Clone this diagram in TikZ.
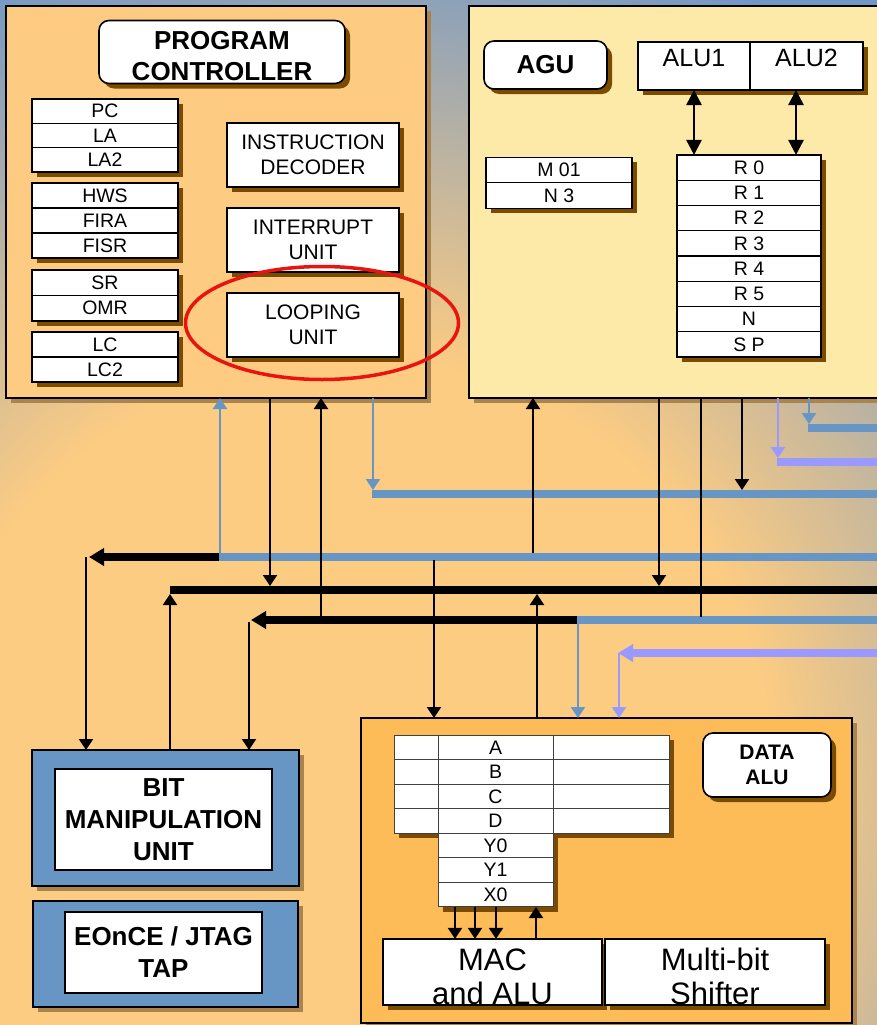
\documentclass[tikz,border=0pt]{standalone}
\usepackage{fontspec}
\setmainfont{Liberation Sans}
\usetikzlibrary{arrows.meta,shadows,shapes.geometric}
\definecolor{pcfill}{RGB}{253,204,130}
\definecolor{agufill}{RGB}{254,234,168}
\definecolor{dalufill}{RGB}{254,188,88}
\definecolor{busblue}{RGB}{104,150,196}
\definecolor{busviolet}{RGB}{153,153,255}
\definecolor{shbrown}{RGB}{122,75,0}
\definecolor{shtan}{RGB}{170,132,78}
\definecolor{hlred}{RGB}{232,20,15}
\definecolor{bgblue}{RGB}{112,150,198}
\pgfdeclareradialshading{bgshade}{\pgfpoint{0bp}{0bp}}{rgb(0bp)=(0.99,0.80,0.51); rgb(10.5bp)=(0.99,0.80,0.51); rgb(22bp)=(0.44,0.59,0.78); rgb(50bp)=(0.44,0.59,0.78)}
\newcommand\regfont{\fontsize{19.5}{22}\selectfont}
\newcommand\bigbold{\fontsize{26}{31}\selectfont\bfseries}
\newcommand\bmubold{\fontsize{26}{32}\selectfont\bfseries}
\newcommand\midfont{\fontsize{21}{25}\selectfont}
\newcommand\alufont{\fontsize{25}{30}\selectfont}
\newcommand\macfont{\fontsize{31}{34}\selectfont}
\newcommand\daluf{\fontsize{21}{25}\selectfont\bfseries}
\begin{document}
\begin{tikzpicture}[x=1pt,y=-1pt,
  >={Triangle[width=14pt,length=11pt]},
  bigbox/.style={draw=black, line width=2pt, inner sep=0pt, outer sep=0pt, general shadow={fill=shtan, shadow xshift=5pt, shadow yshift=-5pt}},
  ibox/.style={draw=black, line width=1.6pt, fill=white, inner sep=0pt, outer sep=0pt, align=center, general shadow={fill=shbrown, shadow xshift=5pt, shadow yshift=-5pt}},
  tbox/.style={ibox, rounded corners=10pt},
  reg/.style={ibox, line width=1.3pt, font=\regfont},
  dreg/.style={draw=black!75, line width=1pt, fill=white, inner sep=0pt, outer sep=0pt, minimum height=24.57pt, font=\regfont},
  wbox/.style={draw=black, line width=2pt, fill=white, inner sep=0pt, outer sep=0pt, align=center},
  tl/.style={line width=2pt},
  bus/.style={line width=7.5pt},
  bhead/.style={-{Triangle[width=17pt,length=15pt]}},
  dbl/.style={line width=2.5pt, {Triangle[width=15pt,length=15pt]}-{Triangle[width=15pt,length=15pt]}},
]
\useasboundingbox (0,0) rectangle (877,1025);
\begin{scope}
  \clip (0,0) rectangle (877,1025);
  \fill[bgblue] (0,0) rectangle (877,1025);
  \shade[shading=bgshade] (350,780) circle [radius=1000];
\end{scope}

% ---------- big blocks
\node[bigbox, fill=pcfill, minimum width=420pt, minimum height=392pt] (pcbox) at (216,202) {};
\node[bigbox, fill=agufill, minimum width=420pt, minimum height=392pt] (agubox) at (679,202) {};
\node[bigbox, fill=dalufill, minimum width=491pt, minimum height=305pt] (dalubox) at (606.5,870.5) {};
\node[bigbox, fill=busblue, minimum width=267pt, minimum height=136pt] (bmubox) at (165.5,818) {};
\node[bigbox, fill=busblue, minimum width=265pt, minimum height=106pt] (jtagbox) at (165.5,954) {};

% ---------- bus coordinates
\coordinate (A0) at (219,557); \coordinate (A1) at (880,557); \coordinate (Atip) at (89,557);
\coordinate (B0) at (170,590); \coordinate (B1) at (880,590);
\coordinate (C0) at (577,620); \coordinate (C1) at (880,620); \coordinate (Ctip) at (251,620);
\coordinate (D0) at (372,494); \coordinate (D1) at (880,494);
\coordinate (E0) at (808,428); \coordinate (E1) at (880,428);
\coordinate (F0) at (777,462); \coordinate (F1) at (880,462);
\coordinate (G0) at (880,653); \coordinate (Gtip) at (618,653);

% ---------- buses
\draw[bus, busblue] (A0) -- (A1);
\draw[bus, black, bhead] (A0) -- (Atip);
\draw[bus, black] (B0) -- (B1);
\draw[bus, busblue] (C0) -- (C1);
\draw[bus, black, bhead] (C0) -- (Ctip);
\draw[bus, busblue] (D0) -- (D1);
\draw[bus, busblue] (E0) -- (E1);
\draw[bus, busviolet] (F0) -- (F1);

% ---------- vertical connectors: program controller
\coordinate (p1) at (220,560);
\coordinate (p2) at (270,586);
\coordinate (p3) at (321,617);
\coordinate (p4) at (373,490);
\draw[tl, busblue, ->] (p1) -- (p1 |- pcbox.south);
\draw[tl, ->] (p2 |- pcbox.south) -- (p2);
\draw[tl, ->] (p3) -- (p3 |- pcbox.south);
\draw[tl, busblue, ->] (p4 |- pcbox.south) -- (p4);

% ---------- vertical connectors: AGU
\coordinate (g1) at (533,553);
\coordinate (g2) at (659,586);
\coordinate (g3) at (701,617);
\coordinate (g4) at (742,490);
\coordinate (g5) at (778,458);
\coordinate (g6) at (809,424);
\draw[tl, ->] (g1) -- (g1 |- agubox.south);
\draw[tl, ->] (g2 |- agubox.south) -- (g2);
\draw[tl] (g3 |- agubox.south) -- (g3);
\draw[tl, ->] (g4 |- agubox.south) -- (g4);
\draw[tl, busviolet, ->] (g5 |- agubox.south) -- (g5);
\draw[tl, busblue, ->] (g6 |- agubox.south) -- (g6);

% ---------- vertical connectors: data ALU
\coordinate (h1) at (434,560);
\coordinate (h2) at (537,594);
\coordinate (h3) at (578,620);
\coordinate (h4) at (619,653);
\draw[tl, ->] (h1) -- (h1 |- dalubox.north);
\draw[tl, ->] (h2 |- dalubox.north) -- (h2);
\draw[tl, busblue, ->] (h3) -- (h3 |- dalubox.north);
\draw[tl, busviolet, ->] (h4) -- (h4 |- dalubox.north);
\draw[bus, busviolet, bhead] (G0) -- (Gtip);

% ---------- vertical connectors: bit manipulation
\coordinate (m1) at (86,557);
\coordinate (m2) at (170,594);
\coordinate (m3) at (249,622);
\draw[tl, ->] (m1) -- (m1 |- bmubox.north);
\draw[tl, ->] (m2 |- bmubox.north) -- (m2);
\draw[tl, ->] (m3) -- (m3 |- bmubox.north);

% ---------- program controller contents
\node[tbox, minimum width=246pt, minimum height=63pt, font=\bigbold, text height=58pt] (pctitle) at (222,52) {PROGRAM\\CONTROLLER};
\node[reg, minimum width=146pt, minimum height=24.3pt] (pc) at (105,111.2) {PC};
\node[reg, minimum width=146pt, minimum height=24.3pt] (la) at (105,135.5) {LA};
\node[reg, minimum width=146pt, minimum height=24.3pt] (la2) at (105,159.8) {LA2};
\node[reg, minimum width=146pt, minimum height=25pt] (hws) at (105,195.5) {HWS};
\node[reg, minimum width=146pt, minimum height=25pt] (fira) at (105,220.5) {FIRA};
\node[reg, minimum width=146pt, minimum height=25pt] (fisr) at (105,245.5) {FISR};
\node[reg, minimum width=146pt, minimum height=25.5pt] (sr) at (105,282.75) {SR};
\node[reg, minimum width=146pt, minimum height=25.5pt] (omr) at (105,308.25) {OMR};
\node[reg, minimum width=146pt, minimum height=25pt] (lc) at (105,344.5) {LC};
\node[reg, minimum width=146pt, minimum height=25pt] (lc2) at (105,369.5) {LC2};
\node[ibox, minimum width=172pt, minimum height=64pt, font=\midfont] (idec) at (313,155) {INSTRUCTION\\DECODER};
\node[ibox, minimum width=172pt, minimum height=64pt, font=\midfont] (intu) at (313,240) {INTERRUPT\\UNIT};
\node[ibox, minimum width=172pt, minimum height=64pt, font=\midfont] (loop) at (313,325) {LOOPING\\UNIT};

% ---------- AGU contents
\node[tbox, minimum width=123pt, minimum height=48pt, font=\bigbold] (agut) at (545.5,65) {AGU};
\node[ibox, minimum width=112pt, minimum height=48pt, font=\alufont, text depth=16pt] (alu1) at (694,66) {ALU1};
\node[ibox, minimum width=113pt, minimum height=48pt, font=\alufont, text depth=16pt] (alu2) at (806.5,66) {ALU2};
\node[reg, minimum width=146pt, minimum height=25.5pt] (m01) at (559,170) {M 01};
\node[reg, minimum width=146pt, minimum height=25.5pt] (n3) at (559,195.5) {N 3};
\foreach \t [count=\i from 0] in {R 0,R 1,R 2,R 3,R 4,R 5,N,S P}
  \node[reg, minimum width=144pt, minimum height=25.25pt] (r\i) at (749,{167.6+25.25*\i}) {\t};
\coordinate (d2) at (796,90);
\draw[dbl] (alu1.south) -- (alu1.south |- r0.north);
\draw[dbl] (d2) -- (d2 |- r0.north);

% ---------- data ALU contents
\fill[shbrown] (399,740) rectangle (674,838);
\fill[shbrown] (443,838) rectangle (558,912);
\node[dreg, minimum width=44pt] (l1) at (416,747.3) {};
\node[dreg, minimum width=115pt] (ra) at (495.5,747.3) {A};
\node[dreg, minimum width=116pt] (q1) at (611,747.3) {};
\node[dreg, minimum width=44pt] (l2) at (416,771.9) {};
\node[dreg, minimum width=115pt] (rb) at (495.5,771.9) {B};
\node[dreg, minimum width=116pt] (q2) at (611,771.9) {};
\node[dreg, minimum width=44pt] (l3) at (416,796.4) {};
\node[dreg, minimum width=115pt] (rc) at (495.5,796.4) {C};
\node[dreg, minimum width=116pt] (q3) at (611,796.4) {};
\node[dreg, minimum width=44pt] (l4) at (416,821.0) {};
\node[dreg, minimum width=115pt] (rd) at (495.5,821.0) {D};
\node[dreg, minimum width=116pt] (q4) at (611,821.0) {};
\node[dreg, minimum width=115pt] (y0) at (495.5,845.6) {Y0};
\node[dreg, minimum width=115pt] (y1) at (495.5,870.1) {Y1};
\node[dreg, minimum width=115pt] (x0) at (495.5,894.7) {X0};
\node[tbox, minimum width=128pt, minimum height=64pt, font=\daluf] (dalut) at (767,765) {DATA\\ALU};
\node[ibox, minimum width=219pt, minimum height=66pt, font=\macfont, text height=66pt] (mac) at (492.5,972) {MAC\\and ALU};
\node[ibox, minimum width=220pt, minimum height=66pt, font=\macfont, text height=66pt] (shift) at (715,972) {Multi-bit\\Shifter};
\coordinate (c1) at (455,907);
\coordinate (c2) at (475,907);
\coordinate (c3) at (496,907);
\coordinate (c4) at (536,907);
\draw[tl, ->] (c1) -- (c1 |- mac.north);
\draw[tl, ->] (c2) -- (c2 |- mac.north);
\draw[tl, ->] (c3) -- (c3 |- mac.north);
\draw[tl, ->] (c4 |- mac.north) -- (c4);

% ---------- bit manipulation / JTAG
\node[wbox, minimum width=217pt, minimum height=101pt, font=\bmubold] (bmu) at (163.5,819.5) {BIT\\MANIPULATION\\UNIT};
\node[wbox, minimum width=197pt, minimum height=81pt, font=\bmubold] (jtag) at (163.5,952.5) {EOnCE / JTAG\\TAP};

% ---------- highlight
\node[ellipse, draw=hlred, line width=3.5pt, minimum width=273pt, minimum height=113pt, inner sep=0pt] (hl) at (322,323) {};
\end{tikzpicture}
\end{document}
